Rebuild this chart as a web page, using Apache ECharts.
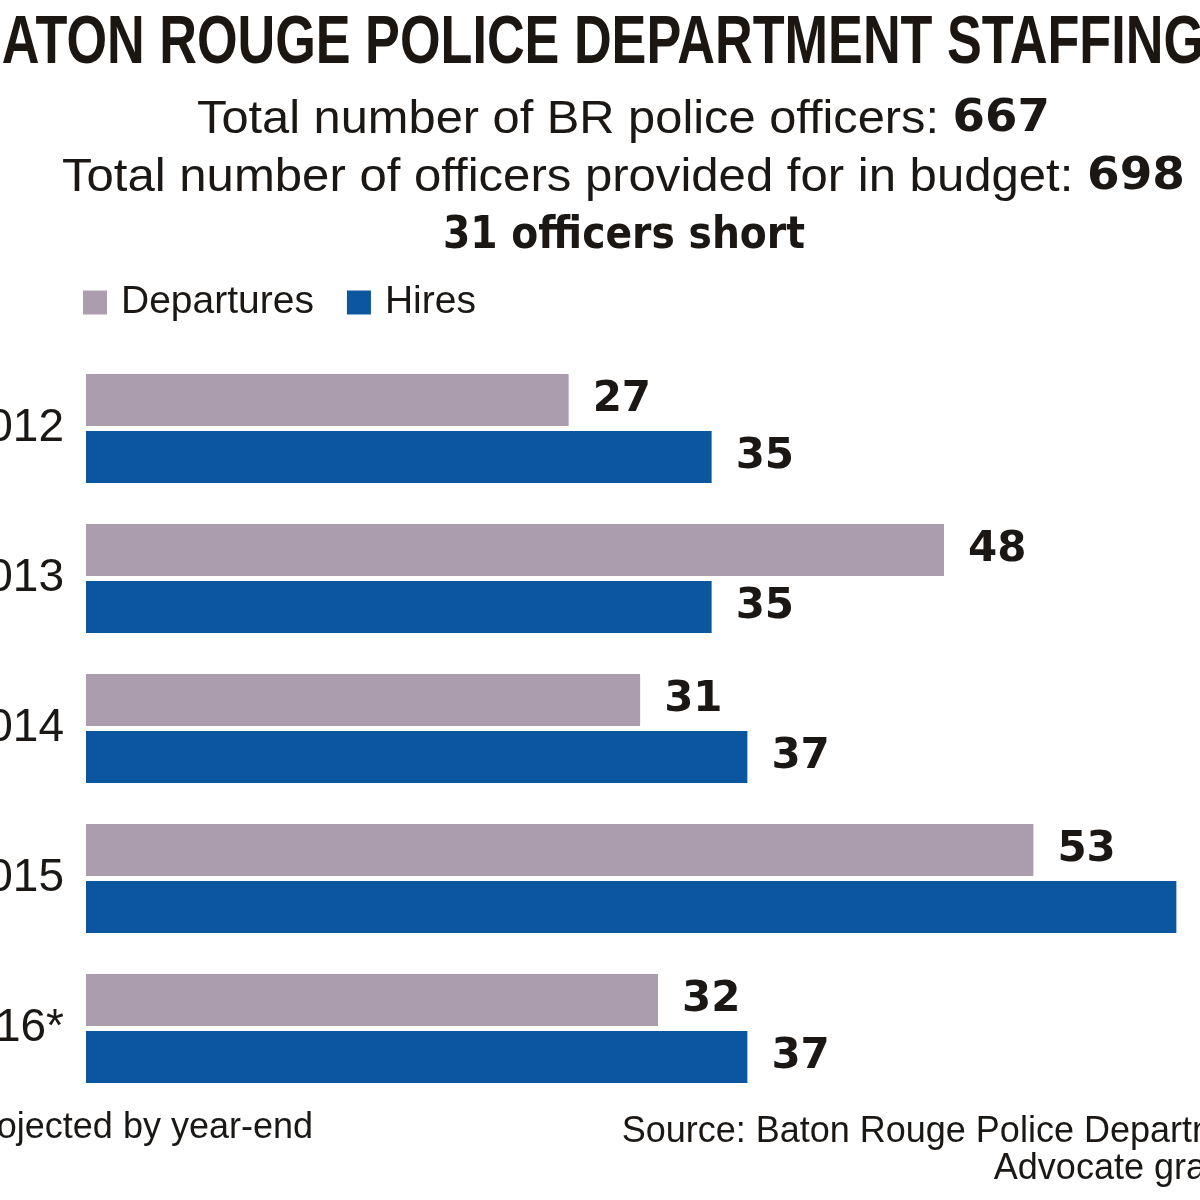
<!DOCTYPE html>
<html>
<head>
<meta charset="utf-8">
<script src="https://cdn.jsdelivr.net/npm/echarts@6/dist/echarts.min.js"></script>
<style>
  html, body { margin: 0; padding: 0; background: #fff; }
  #chart { width: 1200px; height: 1200px; }
</style>
</head>
<body>
<div id="chart"></div>
<script>
const categories = ['2012', '2013', '2014', '2015', '2016*']
const departures = [27, 48, 31, 53, 32]
const hires = [35, 35, 37, 61, 37]
const seriesNames = ['Departures', 'Hires']

const titleText = 'BATON ROUGE POLICE DEPARTMENT STAFFING'
const officersNow = 667
const officersBudget = 698
const shortBy = 31

const ink = '#1a1714'
const sans = '"Liberation Sans", Arial, sans-serif'

// canvas width check so condensed text can be squeezed to the reference width
const ctx = document.createElement('canvas').getContext('2d')
const textWidth = function (parts) {
  let w = 0
  parts.forEach(([text, font]) => {
    ctx.font = font
    w += ctx.measureText(text).width
  })
  return w
}

const titleFont = 'bold 68px ' + sans
const titleScale = 1240 / textWidth([[titleText, titleFont]])

const line1a = 'Total number of BR police officers: '
const line2a = 'Total number of officers provided for in budget: '
const line1Scale = 853 / textWidth([[line1a, '46px ' + sans], [String(officersNow), 'bold 44px "DejaVu Sans"']])
const line2Scale = 1123 / textWidth([[line2a, '46px ' + sans], [String(officersBudget), 'bold 44px "DejaVu Sans"']])
const line3 = shortBy + ' officers short'
const line3Scale = 362 / textWidth([[line3, 'bold 44px "DejaVu Sans"']])

const rich = {
  r: { fontFamily: sans, fontSize: 46, fill: ink },
  b: { fontFamily: 'DejaVu Sans', fontWeight: 'bold', fontSize: 44, fill: ink }
}

const valueLabel = {
  show: true,
  position: 'right',
  distance: 24,
  fontFamily: 'DejaVu Sans',
  fontWeight: 'bold',
  fontSize: 42,
  color: ink
}

const myChart = echarts.init(document.getElementById('chart'))

const option = {
  backgroundColor: '#fff',
  animation: false,
  legend: {
    data: seriesNames,
    left: 78,
    top: 278,
    icon: 'rect',
    itemWidth: 24,
    itemHeight: 24,
    itemGap: 33,
    textStyle: {
      fontFamily: sans,
      fontSize: 39,
      color: ink,
      padding: [0, 0, 0, 9]
    }
  },
  grid: {
    left: 86,
    right: 5.75,
    top: 353.5,
    bottom: 96.5,
    outerBoundsMode: 'none'
  },
  xAxis: {
    type: 'value',
    min: 0,
    max: 62,
    show: false
  },
  yAxis: {
    type: 'category',
    data: categories,
    inverse: true,
    axisLine: { show: false },
    axisTick: { show: false },
    axisLabel: {
      margin: 22,
      fontFamily: sans,
      fontSize: 46,
      color: ink
    }
  },
  series: [
    {
      name: seriesNames[0],
      type: 'bar',
      data: departures,
      barWidth: 52,
      barGap: '10%',
      itemStyle: { color: '#ab9cae' },
      label: valueLabel
    },
    {
      name: seriesNames[1],
      type: 'bar',
      data: hires,
      barWidth: 52,
      barGap: '10%',
      itemStyle: { color: '#0c56a0' },
      label: valueLabel
    }
  ],
  graphic: [
    {
      type: 'text',
      x: 584,
      y: 44,
      scaleX: titleScale,
      style: {
        text: titleText,
        font: titleFont,
        fill: '#1c1612',
        align: 'center',
        verticalAlign: 'middle'
      }
    },
    {
      type: 'text',
      x: 623.5,
      y: 120,
      scaleX: line1Scale,
      style: {
        text: '{r|' + line1a + '}{b|' + officersNow + '}',
        rich: rich,
        align: 'center',
        verticalAlign: 'middle'
      }
    },
    {
      type: 'text',
      x: 623.5,
      y: 178,
      scaleX: line2Scale,
      style: {
        text: '{r|' + line2a + '}{b|' + officersBudget + '}',
        rich: rich,
        align: 'center',
        verticalAlign: 'middle'
      }
    },
    {
      type: 'text',
      x: 624,
      y: 237,
      scaleX: line3Scale,
      style: {
        text: line3,
        font: 'bold 44px "DejaVu Sans"',
        fill: ink,
        align: 'center',
        verticalAlign: 'middle'
      }
    },
    {
      type: 'text',
      x: 313,
      y: 1128,
      style: {
        text: '*Projected by year-end',
        font: '36px ' + sans,
        fill: ink,
        align: 'right',
        verticalAlign: 'middle'
      }
    },
    {
      type: 'text',
      x: 1272,
      y: 1151,
      style: {
        text: 'Source: Baton Rouge Police Department\nAdvocate graphic',
        font: '36px ' + sans,
        lineHeight: 37,
        fill: ink,
        align: 'right',
        verticalAlign: 'middle'
      }
    }
  ]
}

myChart.setOption(option)
</script>
</body>
</html>
